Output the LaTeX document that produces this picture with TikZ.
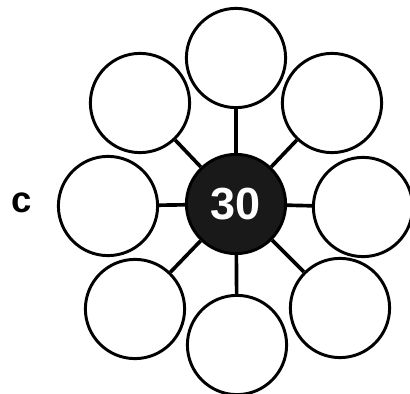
\documentclass[tikz,border=0pt]{standalone}
\usepackage{fontspec}
\setmainfont{Liberation Sans}
\begin{document}
\begin{tikzpicture}[x=0.025cm,y=-0.025cm,line width=2.1pt]
	\useasboundingbox (0,0) rectangle (410,394);
	
	% middle circle
	\node[circle,draw,fill=black!90,minimum size=2.48cm,inner sep=0pt,text=white,
		font=\bfseries\fontsize{32}{32}\selectfont] (mid) at (236,204) {30};
	
	% outer circles with spokes
	\foreach \n/\x/\y in {1/236/58, 2/332/103, 3/363/207, 4/340/308, 5/237/345, 6/135/309, 7/108/206, 8/140/103}{
		\node[circle,draw,minimum size=2.48cm,inner sep=0pt] (o\n) at (\x,\y) {};
		\draw[line width=2.6pt] (mid) -- (o\n);
	}
	
	% label
	\node[font=\bfseries\fontsize{26}{26}\selectfont] (lab) at (22,203) {c};
\end{tikzpicture}
\end{document}
